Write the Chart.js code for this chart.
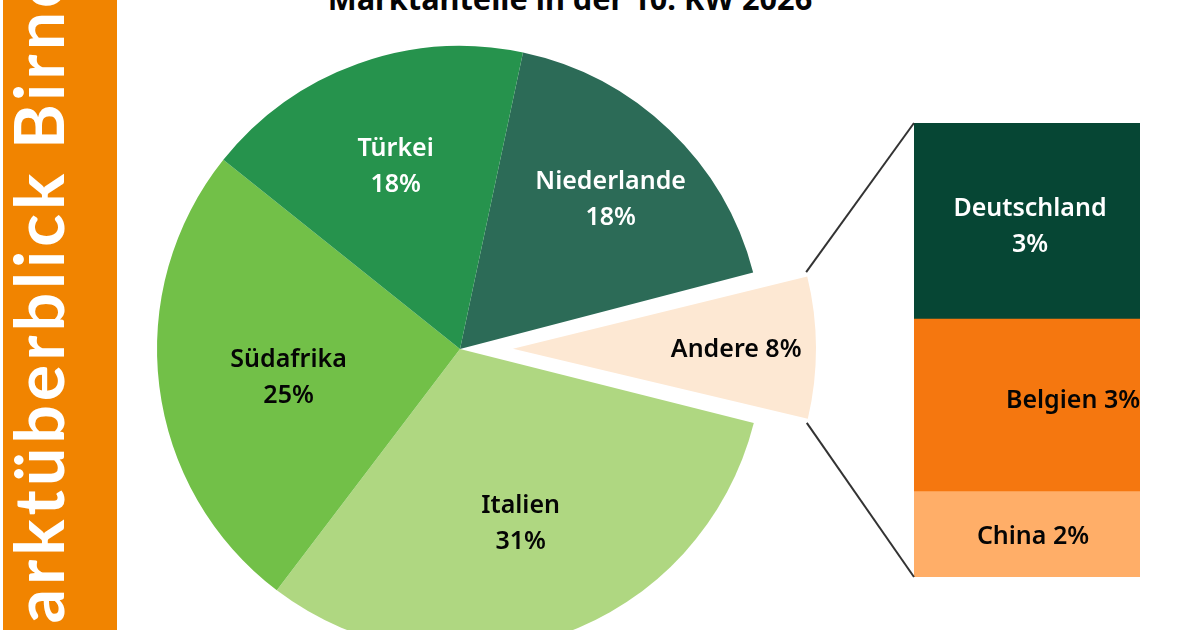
<!DOCTYPE html>
<html lang="de">
<head>
<meta charset="utf-8">
<title>Marktüberblick Birnen</title>
<script src="https://cdn.jsdelivr.net/npm/chart.js@4"></script>
<style>
    html, body { margin: 0; width: 1200px; height: 630px; overflow: hidden; background: #fff; }
    body { position: relative; font-family: "Noto Sans", sans-serif; }
    canvas { position: absolute; }
    #pieChart { left: 60px; top: -1px; }
    #barChart { left: 780px; top: 113px; }
    #sidebar { position: absolute; left: 3px; top: 0; width: 114px; height: 630px; background: #f18400; overflow: hidden; }
    #sideText {
        position: absolute; left: 1px; top: 691px; white-space: nowrap;
        transform-origin: 0 0; transform: rotate(-90deg);
        color: #fff; font-family: Lato, sans-serif; font-weight: 700; font-size: 68px; line-height: 1; letter-spacing: 4px;
    }
    #title {
        position: absolute; left: 320px; width: 500px; top: -22px; text-align: center;
        font-weight: 700; font-size: 30.7px; line-height: 40px; color: #050505; white-space: nowrap;
    }
</style>
</head>
<body>
<div id="sidebar"><div id="sideText">Marktüberblick Birnen</div></div>
<div id="title">Marktanteile in der 10. KW 2026</div>
<canvas id="pieChart" width="800" height="700"></canvas>
<canvas id="barChart" width="370" height="474"></canvas>
<script>
const countries = ["Niederlande", "Andere", "Italien", "Südafrika", "Türkei"];
const shares = [17.6, 8.0, 31.4, 25.4, 17.6];
const pieColors = ["#2c6b57", "#fde8d3", "#afd781", "#72c048", "#26934d"];

const otherCountries = ["Deutschland", "Belgien", "China"];
const otherShares = [3.4, 3.0, 1.5];
const barColors = ["#064634", "#f5770f", "#ffae68"];

const LABEL_FONT = '600 25px "Noto Sans", sans-serif';
const PIE_RADIUS = 303;
const ANDERE_GAP = 53;

function drawLabel(ctx, lines, x, y, color) {
    ctx.save();
    ctx.font = LABEL_FONT;
    ctx.fillStyle = color;
    ctx.textAlign = "center";
    ctx.textBaseline = "middle";
    lines.forEach((line, i) => {
        ctx.fillText(line, x, y + 2 + (i - (lines.length - 1) / 2) * 36);
    });
    ctx.restore();
}

// how far out along the slice each label sits, as a part of the radius, plus a small nudge
const pieLabelPlace = [0.715, 0.73, 0.605, 0.57, 0.64];
const pieLabelNudge = [[1, 6], [2, 0], [0, 0], [0, 6], [1, -2]];
const pieLabelColor = ["#fff", "#050505", "#050505", "#050505", "#fff"];

const pieLabels = {
    id: "pieLabels",
    // chart.js grows an offset arc's radius when it is drawn, take that back out
    beforeDatasetsDraw(chart) {
        chart.getDatasetMeta(0).data.forEach(arc => {
            const off = (arc.options.offset || 0) / 4;
            const fix = 1 - Math.sin(Math.min(Math.PI, arc.circumference));
            arc.outerRadius = PIE_RADIUS - off * fix;
        });
    },
    afterDraw(chart) {
        chart.getDatasetMeta(0).data.forEach((arc, i) => {
            const mid = (arc.startAngle + arc.endAngle) / 2;
            const off = (arc.options.offset || 0) / 4;
            const r = PIE_RADIUS * pieLabelPlace[i] + off;
            const x = arc.x + Math.cos(mid) * r + pieLabelNudge[i][0];
            const y = arc.y + Math.sin(mid) * r + pieLabelNudge[i][1];
            const pct = Math.round(shares[i]) + "%";
            const lines = countries[i] === "Andere" ? [countries[i] + " " + pct] : [countries[i], pct];
            drawLabel(chart.ctx, lines, x, y, pieLabelColor[i]);
        });
    }
};

const pieChart = new Chart(document.getElementById("pieChart"), {
    type: "pie",
    data: {
        labels: countries,
        datasets: [{
            data: shares,
            backgroundColor: pieColors,
            borderWidth: 0,
            radius: PIE_RADIUS,
            // chart.js moves an arc by a quarter of this option
            offset: countries.map(c => c === "Andere" ? ANDERE_GAP * 4 : 0)
        }]
    },
    options: {
        responsive: false,
        animation: false,
        rotation: 12,
        plugins: { legend: { display: false }, tooltip: { enabled: false } }
    },
    plugins: [pieLabels]
});

// label nudges inside the stacked bar, same as the original
const barLabelShift = [[3, 4], [46, -6], [6, 1]];
const barLabelColor = ["#fff", "#050505", "#050505"];

const barExtras = {
    id: "barExtras",
    afterDraw(chart) {
        const ctx = chart.ctx;

        // connector lines from the outer corners of the "Andere" slice
        const arc = pieChart.getDatasetMeta(0).data[countries.indexOf("Andere")];
        const mid = (arc.startAngle + arc.endAngle) / 2;
        const cx = arc.x + Math.cos(mid) * ANDERE_GAP;
        const cy = arc.y + Math.sin(mid) * ANDERE_GAP;
        const pieBox = pieChart.canvas.getBoundingClientRect();
        const barBox = chart.canvas.getBoundingClientRect();
        const dx = pieBox.left - barBox.left;
        const dy = pieBox.top - barBox.top;
        const a = chart.chartArea;
        ctx.save();
        ctx.strokeStyle = "#333";
        ctx.lineWidth = 2;
        [[arc.startAngle, a.top], [arc.endAngle, a.bottom]].forEach(([angle, endY]) => {
            ctx.beginPath();
            ctx.moveTo(cx + dx + Math.cos(angle) * PIE_RADIUS, cy + dy + Math.sin(angle) * PIE_RADIUS);
            ctx.lineTo(a.left, endY);
            ctx.stroke();
        });
        ctx.restore();

        otherCountries.forEach((name, i) => {
            const bar = chart.getDatasetMeta(i).data[0];
            const pct = Math.round(otherShares[i]) + "%";
            const lines = name === "Deutschland" ? [name, pct] : [name + " " + pct];
            const x = (a.left + a.right) / 2 + barLabelShift[i][0];
            const y = (bar.y + bar.base) / 2 + barLabelShift[i][1];
            drawLabel(ctx, lines, x, y, barLabelColor[i]);
        });
    }
};

new Chart(document.getElementById("barChart"), {
    type: "bar",
    data: {
        labels: ["Andere"],
        datasets: otherCountries.map((name, i) => ({
            label: name,
            data: [otherShares[i]],
            backgroundColor: barColors[i],
            borderWidth: 0,
            barPercentage: 1,
            categoryPercentage: 1
        }))
    },
    options: {
        responsive: false,
        animation: false,
        layout: { padding: { left: 134, right: 10, top: 10, bottom: 10 } },
        scales: {
            x: { stacked: true, display: false },
            y: {
                stacked: true,
                display: false,
                reverse: true,
                min: 0,
                max: otherShares.reduce((s, v) => s + v, 0)
            }
        },
        plugins: { legend: { display: false }, tooltip: { enabled: false } }
    },
    plugins: [barExtras]
});
</script>
</body>
</html>
